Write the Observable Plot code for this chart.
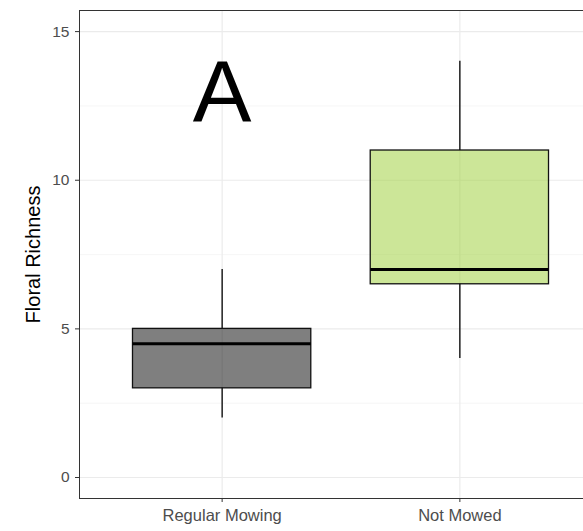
<!DOCTYPE html>
<html>
<head>
<meta charset="utf-8">
<script src="https://cdn.jsdelivr.net/npm/d3@7"></script>
<script src="https://cdn.jsdelivr.net/npm/@observablehq/plot@0.6"></script>
<style>
  html, body { margin: 0; padding: 0; background: #fff; overflow: hidden; }
  #chart svg { display: block; max-width: none !important; }
</style>
</head>
<body>
<div id="chart"></div>
<script>
// Data
const categories = ["Regular Mowing", "Not Mowed"];
const whiskerLow = [2, 4];
const q1 = [3, 6.5];
const median = [4.5, 7];
const q3 = [5, 11];
const whiskerHigh = [7, 14];
const fills = ["#000000", "#9acd32"];
const yTicks = [0, 5, 10, 15];
const yMinorTicks = [2.5, 7.5, 12.5];
const annotation = [{label: "A", category: "Regular Mowing", y: 12.9}];

const rows = categories.map((c, i) => ({
  cat: c, pos: i + 1,
  lo: whiskerLow[i], q1: q1[i], med: median[i], q3: q3[i], hi: whiskerHigh[i],
  fill: fills[i]
}));
const posOf = c => categories.indexOf(c) + 1;
const halfWidth = 0.375;

const chart = Plot.plot({
  width: 603,
  height: 531,
  marginLeft: 79,
  marginRight: 1,
  marginTop: 10,
  marginBottom: 33,
  style: {fontFamily: "'Liberation Sans', Arial, sans-serif", background: "#fff", maxWidth: "none"},
  x: {domain: [0.4, 2.6], axis: null},
  y: {domain: [-0.706, 15.71], axis: null},
  marks: [
    Plot.ruleY(yMinorTicks, {stroke: "#f2f2f2", strokeWidth: 0.7}),
    Plot.ruleY(yTicks, {stroke: "#ebebeb", strokeWidth: 1.2}),
    Plot.ruleX(rows, {x: "pos", stroke: "#ebebeb", strokeWidth: 1.2}),
    Plot.ruleX(rows, {x: "pos", y1: "lo", y2: "q1", stroke: "#000", strokeWidth: 1.3}),
    Plot.ruleX(rows, {x: "pos", y1: "q3", y2: "hi", stroke: "#000", strokeWidth: 1.3}),
    Plot.rect(rows, {
      x1: d => d.pos - halfWidth, x2: d => d.pos + halfWidth,
      y1: "q1", y2: "q3", fill: d => d.fill, fillOpacity: 0.5,
      stroke: "#111", strokeWidth: 1.3
    }),
    Plot.ruleY(rows, {
      y: "med", x1: d => d.pos - halfWidth, x2: d => d.pos + halfWidth,
      stroke: "#000", strokeWidth: 3
    }),
    Plot.text(annotation, {
      x: d => posOf(d.category), y: "y", text: "label",
      fontSize: 88, fill: "#000", textAnchor: "middle", lineAnchor: "middle"
    }),
    Plot.frame({stroke: "#333", strokeWidth: 1}),
    Plot.axisY(yTicks, {
      tickSize: 4, tickPadding: 6, fontSize: 15.5, color: "#4d4d4d", stroke: "#333",
      label: null
    }),
    Plot.axisX(rows.map(r => r.pos), {
      tickSize: 4, tickPadding: 7, fontSize: 16.5, color: "#4d4d4d", stroke: "#333",
      tickFormat: p => categories[p - 1], label: null
    }),
    Plot.text(["Floral Richness"], {
      frameAnchor: "left", dx: -46, rotate: -90, fontSize: 20, fill: "#000",
      textAnchor: "middle", lineAnchor: "middle"
    })
  ]
});
document.getElementById("chart").appendChild(chart);
</script>
</body>
</html>
